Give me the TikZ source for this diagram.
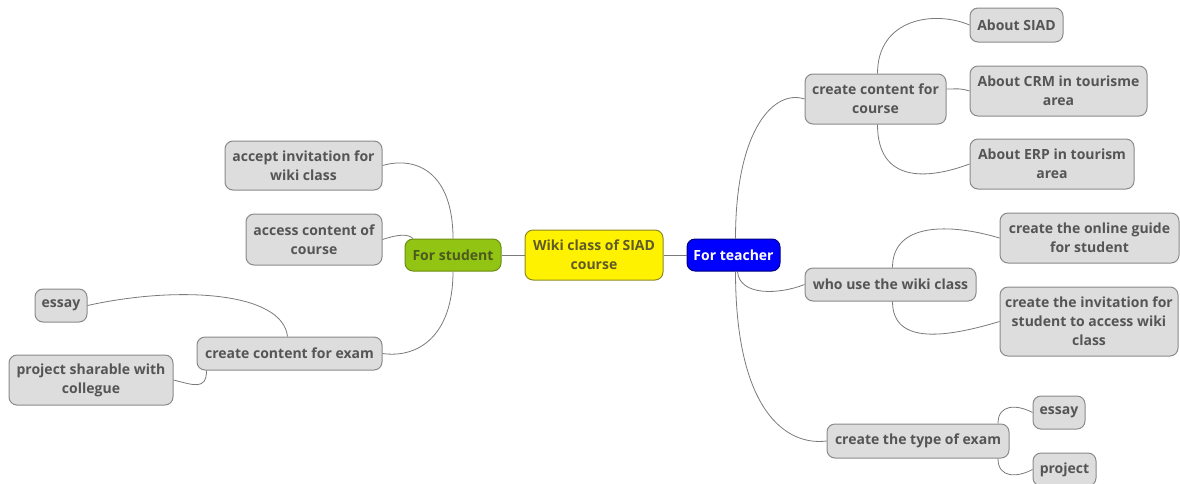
\documentclass[tikz,border=0pt]{standalone}
\usepackage{fontspec}
\setmainfont{Open Sans}
\definecolor{txt}{HTML}{555555}
\definecolor{boxfill}{HTML}{DDDDDD}
\definecolor{boxdraw}{HTML}{8A8A8A}
\definecolor{linec}{HTML}{7A7A7A}
\definecolor{stgreen}{HTML}{92C414}
\definecolor{stgreend}{HTML}{6C8E12}
\definecolor{sttxt}{HTML}{4C5A1E}
\definecolor{ctrtxt}{HTML}{5E5A2A}
\definecolor{ctrdraw}{HTML}{8C8A20}
\begin{document}
\begin{tikzpicture}[x=1pt,y=-1pt,
  base/.style={rounded corners=8pt, line width=1pt, align=center, inner sep=0pt,
    font=\fontsize{14}{19}\selectfont\bfseries},
  topic/.style={base, fill=boxfill, draw=boxdraw, text=txt},
  conn/.style={draw=linec, line width=0.8pt}]
\useasboundingbox (0,0) rectangle (1180,483);

% central and main branches
\node[base, fill=yellow, draw=ctrdraw, text=ctrtxt, minimum width=138pt, minimum height=50pt] (center) at (594,255) {Wiki class of SIAD\\course};
\node[base, fill=stgreen, draw=stgreend, text=sttxt, minimum width=96pt, minimum height=32pt] (student) at (453,255) {For student};
\node[base, fill=blue, draw=blue!50!black, text=white, minimum width=93pt, minimum height=32pt] (teacher) at (733.5,255) {For teacher};

% student side
\node[topic, minimum width=157pt, minimum height=49pt] (accept) at (303.5,165.5) {accept invitation for\\wiki class};
\node[topic, minimum width=136pt, minimum height=51pt] (access) at (314,239.5) {access content of\\course};
\node[topic, minimum width=185pt, minimum height=33pt] (exam) at (289.5,353.5) {create content for exam};
\node[topic, minimum width=52pt, minimum height=33pt] (essayL) at (61,305.5) {essay};
\node[topic, minimum width=164pt, minimum height=50pt] (psh) at (91,380) {project sharable with\\collegue};

% teacher side
\node[topic, minimum width=141pt, minimum height=50pt] (ccourse) at (875.5,99) {create content for\\course};
\node[topic, minimum width=93pt, minimum height=34pt] (siad) at (1016.5,25) {About SIAD};
\node[topic, minimum width=177pt, minimum height=50pt] (crm) at (1058.5,91) {About CRM in tourisme\\area};
\node[topic, minimum width=164pt, minimum height=50pt] (erp) at (1052,164) {About ERP in tourism\\area};
\node[topic, minimum width=171pt, minimum height=33pt] (who) at (890.5,284.5) {who use the wiki class};
\node[topic, minimum width=179pt, minimum height=50pt] (guide) at (1089.5,238) {create the online guide\\for student};
\node[topic, minimum width=178pt, minimum height=69pt] (inv) at (1089,321.5) {create the invitation for\\student to access wiki\\class};
\node[topic, minimum width=182pt, minimum height=34pt] (type) at (918,441) {create the type of exam};
\node[topic, minimum width=52pt, minimum height=33pt] (essayR) at (1059,412.5) {essay};
\node[topic, minimum width=63pt, minimum height=33pt] (projR) at (1064.5,469.5) {project};

% connectors
\draw[conn] (center.west) -- (student.east);
\draw[conn] (center.east) -- (teacher.west);
\draw[conn] (student.north) .. controls +(0,-65) and +(35,-10) .. (accept.east);
\draw[conn] (access.east) .. controls +(15,-5) and +(-5,-5) .. ([xshift=-40pt]student.north);
\draw[conn] (student.south) .. controls +(0,65) and +(35,5) .. (exam.east);
\draw[conn] ([xshift=-2pt]exam.north) .. controls +(-5,-45) and +(90,-20) .. (essayL.east);
\draw[conn] ([xshift=-83pt]exam.south) .. controls +(0,20) and +(20,5) .. (psh.east);

\draw[conn] ([xshift=2pt]teacher.north) .. controls +(0,-110) and +(-30,-10) .. (ccourse.west);
\draw[conn] ([xshift=4pt]teacher.south) .. controls +(2,25) and +(-25,10) .. (who.west);
\draw[conn] ([xshift=2pt]teacher.south) .. controls +(0,140) and +(-40,5) .. (type.west);

\draw[conn] ([xshift=2pt]ccourse.north) .. controls +(0,-55) and +(-35,-15) .. (siad.west);
\draw[conn] ([yshift=10pt]ccourse.east) .. controls +(12,0) and +(-10,-3) .. (crm.west);
\draw[conn] ([xshift=2pt]ccourse.south) .. controls +(0,60) and +(-40,15) .. (erp.west);

\draw[conn] ([xshift=2pt]who.north) .. controls +(0,-45) and +(-50,-15) .. (guide.west);
\draw[conn] ([xshift=2pt]who.south) .. controls +(0,45) and +(-50,15) .. (inv.west);

\draw[conn] ([xshift=80pt]type.north) .. controls +(0,-20) and +(-15,-8) .. (essayR.west);
\draw[conn] ([xshift=80pt]type.south) .. controls +(0,20) and +(-15,8) .. (projR.west);
\end{tikzpicture}
\end{document}
